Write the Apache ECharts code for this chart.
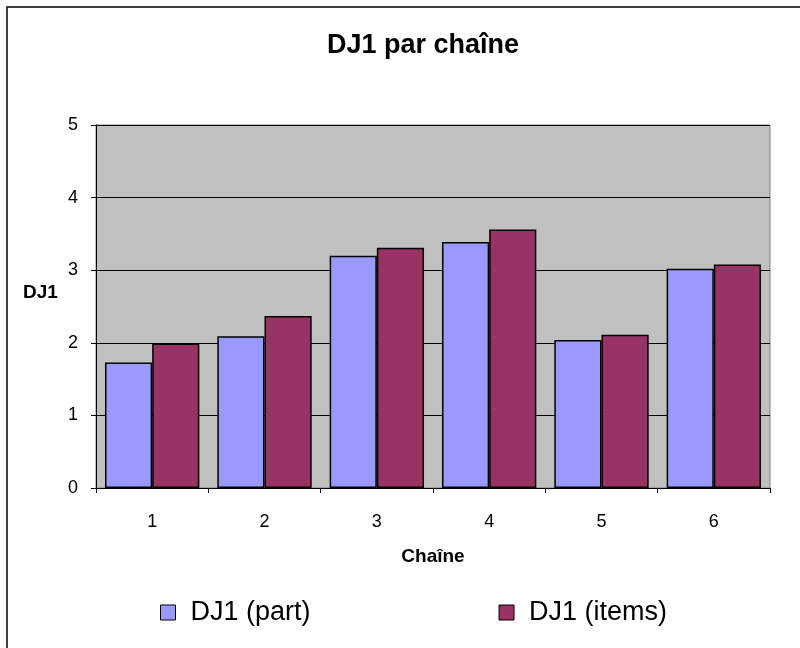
<!DOCTYPE html>
<html>
<head>
<meta charset="utf-8">
<script src="https://cdn.jsdelivr.net/npm/echarts@6/dist/echarts.min.js"></script>
<style>html,body{margin:0;padding:0;background:#fff}#c{width:800px;height:648px}</style>
</head>
<body>
<div id="c"></div>
<script>
const categories = ['1', '2', '3', '4', '5', '6'];
const partValues = [1.73, 2.09, 3.20, 3.39, 2.04, 3.02];
const itemsValues = [1.99, 2.37, 3.31, 3.56, 2.11, 3.08];
const seriesNames = ['DJ1 (part)', 'DJ1 (items)'];
const yTicks = [0, 1, 2, 3, 4, 5];

const FONT = '"Liberation Sans", Arial, sans-serif';
const chart = echarts.init(document.getElementById('c'), null, {renderer: 'canvas'});
chart.setOption({
  animation: false,
  backgroundColor: '#ffffff',
  title: {
    text: 'DJ1 par chaîne',
    left: 418, top: 27, textAlign: 'center',
    textStyle: {fontFamily: FONT, fontWeight: 'bold', fontSize: 27, color: '#000'}
  },
  graphic: [
    {type: 'rect', shape: {x: 7, y: 7, width: 820, height: 680}, style: {fill: 'none', stroke: '#000', lineWidth: 1.5}, silent: true},
    {type: 'text', x: 23, y: 293, style: {text: 'DJ1', fontFamily: FONT, fontWeight: 'bold', fontSize: 19, fill: '#000', textVerticalAlign: 'middle'}}
  ],
  legend: {
    data: seriesNames,
    left: 155, top: 594,
    itemWidth: 15, itemHeight: 15, itemGap: 188,
    icon: 'rect',
    itemStyle: {borderColor: '#000', borderWidth: 1},
    textStyle: {fontFamily: FONT, fontSize: 27, color: '#000', padding: [0, 0, 0, 10]}
  },
  grid: {
    left: 96, right: 30, top: 125, bottom: 160,
    show: true, backgroundColor: '#C0C0C0', borderColor: '#808080', borderWidth: 1,
    containLabel: false
  },
  xAxis: {
    type: 'category',
    data: categories,
    name: 'Chaîne', nameLocation: 'middle', nameGap: 59,
    nameTextStyle: {fontFamily: FONT, fontWeight: 'bold', fontSize: 19, color: '#000'},
    axisLine: {lineStyle: {color: '#000', width: 1}},
    axisTick: {show: true, length: 5, lineStyle: {color: '#000'}},
    axisLabel: {fontFamily: FONT, fontSize: 18, color: '#000', margin: 25}
  },
  yAxis: {
    type: 'value', min: 0, max: 5, interval: 1,
    axisLine: {show: true, lineStyle: {color: '#000', width: 1}},
    axisTick: {show: true, length: 5, lineStyle: {color: '#000'}},
    axisLabel: {fontFamily: FONT, fontSize: 18, color: '#000', margin: 18,
      formatter: v => yTicks.includes(v) ? String(v) : ''},
    splitLine: {show: true, lineStyle: {color: '#000', width: 1}}
  },
  series: [
    {name: seriesNames[0], type: 'bar', data: partValues, barGap: '0%', barCategoryGap: '16%',
     itemStyle: {color: '#9999FF', borderColor: '#000', borderWidth: 1.5}},
    {name: seriesNames[1], type: 'bar', data: itemsValues, barGap: '0%', barCategoryGap: '16%',
     itemStyle: {color: '#993366', borderColor: '#000', borderWidth: 1.5}}
  ]
});
</script>
</body>
</html>
